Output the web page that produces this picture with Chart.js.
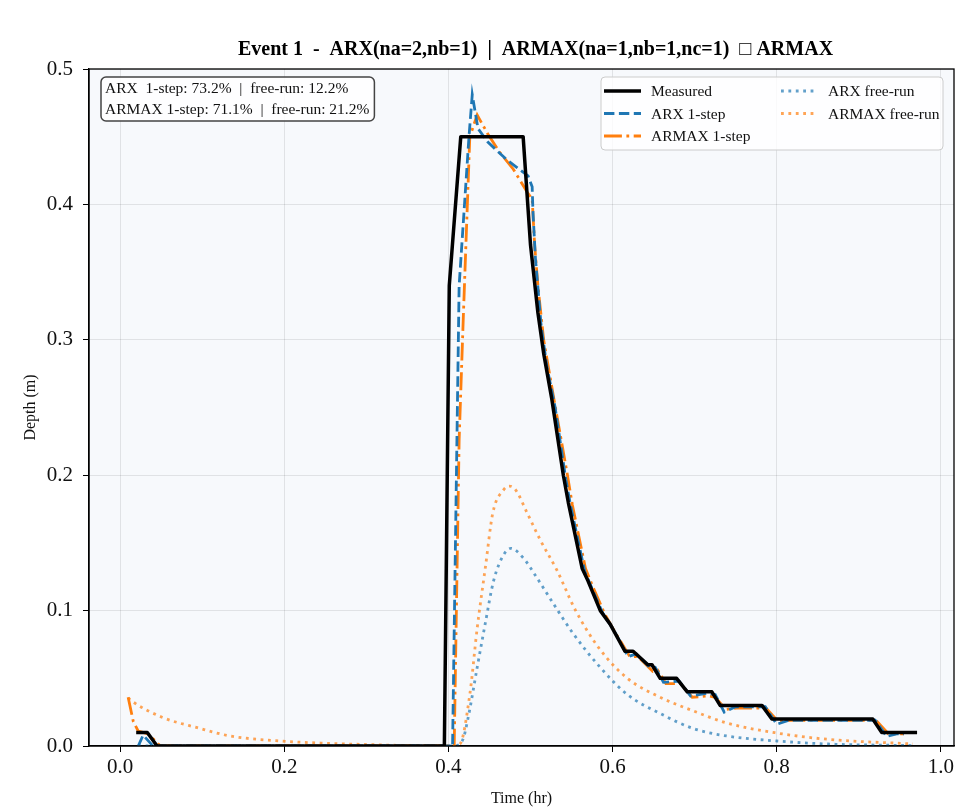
<!DOCTYPE html>
<html>
<head>
<meta charset="utf-8">
<script src="https://cdn.jsdelivr.net/npm/chart.js@4.4.1/dist/chart.umd.min.js"></script>
<style>
  html, body { margin: 0; padding: 0; background: #ffffff; }
  canvas { display: block; }
</style>
</head>
<body>
<canvas id="chart" width="958" height="810"></canvas>
<script>
// ---------------------------------------------------------------------------
// Data (time in hr, depth in m)
// ---------------------------------------------------------------------------
const xTicks = [0.0, 0.2, 0.4, 0.6, 0.8, 1.0];
const yTicks = [0.0, 0.1, 0.2, 0.3, 0.4, 0.5];

const measuredT = [0.0195, 0.033, 0.045, 0.395, 0.401, 0.415, 0.491, 0.500, 0.509, 0.516,
  0.526, 0.540, 0.546, 0.563, 0.570, 0.585, 0.597, 0.606, 0.615, 0.625, 0.643, 0.648,
  0.658, 0.678, 0.691, 0.721, 0.731, 0.782, 0.794, 0.917, 0.928, 0.971];
const measuredD = [0.01, 0.01, 0.0, 0.0, 0.34, 0.45, 0.45, 0.37, 0.32, 0.29,
  0.256, 0.20, 0.18, 0.131, 0.122, 0.10, 0.09, 0.08, 0.07, 0.07, 0.06, 0.06,
  0.05, 0.05, 0.04, 0.04, 0.03, 0.03, 0.02, 0.02, 0.01, 0.01];

const arxStepT = [0.022, 0.028, 0.040, 0.405, 0.413, 0.425, 0.429, 0.436, 0.448, 0.471,
  0.484, 0.497, 0.502, 0.503, 0.506, 0.513, 0.520, 0.530, 0.543, 0.549, 0.566, 0.573,
  0.588, 0.600, 0.609, 0.619, 0.629, 0.647, 0.652, 0.662, 0.681, 0.695, 0.715, 0.725,
  0.736, 0.750, 0.786, 0.800, 0.815, 0.920, 0.934, 0.946, 0.955];
const arxStepD = [0.0, 0.008, 0.0, 0.0, 0.34, 0.45, 0.481, 0.456, 0.446, 0.433,
  0.427, 0.421, 0.413, 0.394, 0.36, 0.31, 0.28, 0.25, 0.197, 0.177, 0.129, 0.119,
  0.098, 0.087, 0.077, 0.066, 0.068, 0.057, 0.058, 0.047, 0.048, 0.037, 0.039, 0.038,
  0.025, 0.029, 0.029, 0.016, 0.019, 0.019, 0.007, 0.009, 0.009];

const armaxStepT = [0.0097, 0.016, 0.022, 0.034, 0.049, 0.407, 0.413, 0.418, 0.426, 0.435,
  0.448, 0.463, 0.479, 0.496, 0.502, 0.505, 0.509, 0.516, 0.528, 0.545, 0.551, 0.567,
  0.575, 0.590, 0.602, 0.611, 0.621, 0.631, 0.649, 0.655, 0.665, 0.683, 0.697, 0.717,
  0.725, 0.738, 0.751, 0.787, 0.802, 0.817, 0.921, 0.936, 0.955];
const armaxStepD = [0.036, 0.018, 0.011, 0.009, 0.0, 0.0, 0.226, 0.315, 0.45, 0.466,
  0.452, 0.438, 0.426, 0.409, 0.404, 0.37, 0.34, 0.30, 0.258, 0.20, 0.178, 0.131,
  0.119, 0.098, 0.085, 0.076, 0.066, 0.066, 0.055, 0.056, 0.046, 0.046, 0.036, 0.037,
  0.036, 0.027, 0.028, 0.028, 0.018, 0.019, 0.019, 0.009, 0.009];

const arxFreeT = [0.022, 0.405, 0.417, 0.424, 0.435, 0.445, 0.455, 0.467, 0.476, 0.491,
  0.508, 0.528, 0.552, 0.585, 0.618, 0.658, 0.698, 0.739, 0.800, 0.861, 0.966];
const arxFreeD = [0.0, 0.0, 0.004, 0.021, 0.058, 0.091, 0.122, 0.141, 0.146, 0.139,
  0.124, 0.105, 0.083, 0.058, 0.038, 0.024, 0.013, 0.0074, 0.0037, 0.0015, 0.0003];

const armaxFreeT = [0.0097, 0.0146, 0.052, 0.094, 0.134, 0.195, 0.277, 0.357, 0.405, 0.414,
  0.426, 0.435, 0.445, 0.454, 0.467, 0.474, 0.482, 0.496, 0.512, 0.532, 0.555, 0.585,
  0.618, 0.658, 0.698, 0.739, 0.800, 0.861, 0.966];
const armaxFreeD = [0.0356, 0.033, 0.021, 0.0135, 0.0074, 0.0037, 0.0015, 0.0003, 0.0, 0.0015,
  0.038, 0.087, 0.132, 0.172, 0.189, 0.192, 0.189, 0.172, 0.152, 0.130, 0.100, 0.071,
  0.050, 0.036, 0.026, 0.017, 0.0096, 0.005, 0.0015];

const statsLines = [
  'ARX  1-step: 73.2%  |  free-run: 12.2%',
  'ARMAX 1-step: 71.1%  |  free-run: 21.2%',
];
const titleText = 'Event 1  -  ARX(na=2,nb=1)  |  ARMAX(na=1,nb=1,nc=1)  \u25A1 ARMAX';

// ---------------------------------------------------------------------------
// Styling
// ---------------------------------------------------------------------------
const SERIF = "'Liberation Serif', 'Times New Roman', 'DejaVu Serif', serif";
const BLUE = '#1f77b4';
const ORANGE = '#ff7f0e';

const zip = (ts, ds) => ts.map((t, i) => ({ x: t, y: ds[i] }));

// background, frame, title, stats box and two-column legend
const decor = {
  id: 'decor',
  beforeDraw(chart) {
    const { ctx, chartArea: a } = chart;
    ctx.save();
    ctx.fillStyle = '#ffffff';
    ctx.fillRect(0, 0, chart.width, chart.height);
    ctx.fillStyle = '#f7f9fc';
    ctx.fillRect(a.left, a.top, a.right - a.left, a.bottom - a.top);
    ctx.restore();
  },
  afterDraw(chart) {
    const { ctx, chartArea: a } = chart;
    ctx.save();

    // axes frame
    ctx.strokeStyle = '#000';
    ctx.lineWidth = 1.3;
    ctx.strokeRect(a.left, a.top, a.right - a.left, a.bottom - a.top);

    // title above the axes
    ctx.fillStyle = '#000';
    ctx.font = `bold 20px ${SERIF}`;
    ctx.textAlign = 'center';
    ctx.textBaseline = 'alphabetic';
    ctx.fillText(titleText, (a.left + a.right) / 2 + 14, a.top - 14);

    // stats box (upper left)
    ctx.font = `15.5px ${SERIF}`;
    ctx.textAlign = 'left';
    ctx.textBaseline = 'middle';
    const sw = Math.max(...statsLines.map(s => ctx.measureText(s).width)) + 9;
    const sx = a.left + 12, sy = a.top + 8;
    ctx.beginPath();
    ctx.roundRect(sx, sy, sw, 44, 5);
    ctx.fillStyle = 'rgba(255,255,255,0.85)';
    ctx.fill();
    ctx.strokeStyle = '#444';
    ctx.lineWidth = 1.5;
    ctx.stroke();
    ctx.fillStyle = '#111';
    statsLines.forEach((s, i) => ctx.fillText(s, sx + 4, sy + 12 + i * 21));

    // legend (upper right, 2 columns)
    ctx.font = `15.5px ${SERIF}`;
    const lw = 342, lh = 73;
    const lx = a.right - 11 - lw, ly = a.top + 8;
    ctx.beginPath();
    ctx.roundRect(lx, ly, lw, lh, 4);
    ctx.fillStyle = 'rgba(255,255,255,0.8)';
    ctx.fill();
    ctx.strokeStyle = '#cccccc';
    ctx.lineWidth = 1;
    ctx.stroke();
    chart.data.datasets.forEach((d, i) => {
      const col = i < 3 ? 0 : 1;
      const row = i < 3 ? i : i - 3;
      const x0 = lx + (col === 0 ? 3 : 180);
      const yy = ly + 14 + row * 22.5;
      ctx.beginPath();
      ctx.strokeStyle = d.borderColor;
      ctx.lineWidth = d.borderWidth;
      ctx.setLineDash(d.borderDash || []);
      ctx.moveTo(x0, yy);
      ctx.lineTo(x0 + 37, yy);
      ctx.stroke();
      ctx.setLineDash([]);
      ctx.fillStyle = '#111';
      ctx.fillText(d.label, x0 + 47, yy + 1);
    });
    ctx.restore();
  }
};

new Chart(document.getElementById('chart'), {
  type: 'line',
  data: {
    datasets: [
      { label: 'Measured', data: zip(measuredT, measuredD), borderColor: '#000000',
        borderWidth: 3.5, borderJoinStyle: 'round' },
      { label: 'ARX 1-step', data: zip(arxStepT, arxStepD), borderColor: BLUE,
        borderWidth: 2.8, borderDash: [10.4, 4.5] },
      { label: 'ARMAX 1-step', data: zip(armaxStepT, armaxStepD), borderColor: ORANGE,
        borderWidth: 2.8, borderDash: [17.9, 4.5, 2.8, 4.5] },
      { label: 'ARX free-run', data: zip(arxFreeT, arxFreeD), borderColor: 'rgba(31,119,180,0.7)',
        borderWidth: 2.8, borderDash: [2.8, 4.6], cubicInterpolationMode: 'monotone' },
      { label: 'ARMAX free-run', data: zip(armaxFreeT, armaxFreeD), borderColor: 'rgba(255,127,14,0.7)',
        borderWidth: 2.8, borderDash: [2.8, 4.6], cubicInterpolationMode: 'monotone' },
    ],
  },
  options: {
    responsive: false,
    animation: false,
    layout: { padding: { top: 69, right: 4, left: 0, bottom: 0 } },
    elements: { point: { radius: 0 }, line: { tension: 0, fill: false } },
    plugins: {
      legend: { display: false },
      title: { display: false },
      tooltip: { enabled: false },
    },
    scales: {
      x: {
        type: 'linear',
        min: -0.038,
        max: 1.016,
        afterBuildTicks: s => { s.ticks = xTicks.map(v => ({ value: v })); },
        afterFit: s => { s.height = 64; },
        ticks: { font: { family: SERIF, size: 21 }, color: '#111', padding: 3,
          maxRotation: 0, autoSkip: false, callback: v => v.toFixed(1) },
        grid: { color: 'rgba(0,0,0,0.09)', tickColor: '#000', tickLength: 6, lineWidth: 1 },
        border: { color: '#000', width: 1.3 },
        title: { display: true, text: 'Time (hr)', font: { family: SERIF, size: 16 },
          color: '#111', padding: { top: 0, bottom: 2 } },
      },
      y: {
        type: 'linear',
        min: 0,
        max: 0.5,
        afterBuildTicks: s => { s.ticks = yTicks.map(v => ({ value: v })); },
        afterFit: s => { s.width = 89; },
        ticks: { font: { family: SERIF, size: 21 }, color: '#111', padding: 10,
          autoSkip: false, callback: v => v.toFixed(1) },
        grid: { color: 'rgba(0,0,0,0.09)', tickColor: '#000', tickLength: 6, lineWidth: 1 },
        border: { color: '#000', width: 1.3 },
        title: { display: true, text: 'Depth (m)', font: { family: SERIF, size: 16 },
          color: '#111', padding: { top: 21, bottom: 0 } },
      },
    },
  },
  plugins: [decor],
});
</script>
</body>
</html>
